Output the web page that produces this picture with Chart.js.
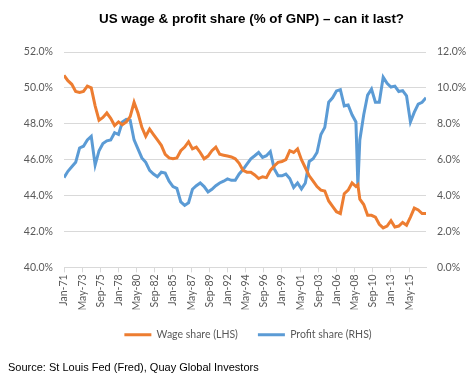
<!DOCTYPE html>
<html>
<head>
<meta charset="utf-8">
<script src="https://cdn.jsdelivr.net/npm/chart.js@4.4.1/dist/chart.umd.min.js"></script>
<style>
  html, body { margin: 0; padding: 0; background: #fff; }
  #wrap { position: relative; width: 475px; height: 383px; }
  #c { position: absolute; left: 0; top: 0; }
  #title { position: absolute; left: 0; width: 475px; top: 11px; text-align: center; padding-left: 28px; box-sizing: border-box;
           font: bold 13.4px "Liberation Sans", Arial, sans-serif; color: #000; }
  #source { position: absolute; left: 8px; top: 361px; font: 11px "Liberation Sans", Arial, sans-serif; color: #000; }
</style>
</head>
<body>
<div id="wrap">
  <canvas id="c" width="475" height="383"></canvas>
  <div id="title">US wage &amp; profit share (% of GNP) – can it last?</div>
  <div id="source">Source: St Louis Fed (Fred), Quay Global Investors</div>
</div>
<script>
// Observation dates (YYYY-MM)
const dates = [
 '1971-01','1971-07','1972-01','1972-07','1973-01','1973-07','1974-01','1974-07','1975-01','1975-07',
 '1976-01','1976-07','1977-01','1977-07','1978-01','1978-07','1979-01','1979-07','1980-01','1980-07',
 '1981-01','1981-07','1982-01','1982-07','1983-01','1983-07','1984-01','1984-07','1985-01','1985-07',
 '1986-01','1986-07','1987-01','1987-07','1988-01','1988-07','1989-01','1989-07','1990-01','1990-07',
 '1991-01','1991-07','1992-01','1992-07','1993-01','1993-07','1994-01','1994-07','1995-01','1995-07',
 '1996-01','1996-07','1997-01','1997-07','1998-01','1998-07','1999-01','1999-07','2000-01','2000-07',
 '2001-01','2001-07','2002-01','2002-07','2003-01','2003-07','2004-01','2004-07','2005-01','2005-07',
 '2006-01','2006-07','2007-01','2007-07','2008-01','2008-07','2008-10','2009-01','2009-07',
 '2010-01','2010-07','2011-01','2011-07','2012-01','2012-07','2013-01','2013-07','2014-01','2014-07',
 '2015-01','2015-07','2016-01','2016-07','2017-01','2017-07'
];
// Wage share, % of GNP (left axis)
const wageShare = [
 50.7,50.4,50.2,49.8,49.75,49.8,50.1,50.0,49.0,48.2,
 48.35,48.6,48.3,47.9,48.1,47.95,48.1,48.4,49.2,48.6,
 47.8,47.3,47.7,47.4,47.1,46.8,46.3,46.1,46.05,46.1,
 46.5,46.7,47.0,46.6,46.7,46.4,46.05,46.2,46.5,46.7,
 46.3,46.25,46.2,46.15,46.05,45.8,45.4,45.3,45.3,45.15,
 44.95,45.05,45.0,45.4,45.65,45.85,45.9,46.0,46.5,46.4,
 46.6,46.0,45.55,45.1,44.8,44.5,44.3,44.25,43.7,43.4,
 43.1,43.0,44.1,44.3,44.7,44.5,44.6,43.8,43.5,
 42.9,42.9,42.8,42.4,42.2,42.3,42.6,42.25,42.3,42.5,
 42.35,42.8,43.3,43.2,43.0,43.0
];
// Profit share, % of GNP (right axis)
const profitShare = [
 5.0,5.35,5.6,5.85,6.65,6.75,7.1,7.3,5.7,6.5,
 6.9,7.05,7.1,7.5,7.4,8.1,8.25,8.2,7.1,6.6,
 6.1,5.85,5.4,5.2,5.05,5.3,5.25,4.8,4.5,4.4,
 3.65,3.45,3.6,4.35,4.55,4.7,4.5,4.2,4.35,4.55,
 4.7,4.8,4.93,4.85,4.85,5.2,5.45,5.75,6.05,6.22,
 6.4,6.13,6.22,6.45,5.5,5.1,5.1,5.2,4.95,4.45,
 4.7,4.37,4.7,5.9,6.05,6.4,7.4,7.8,9.2,9.45,
 9.83,9.9,9.0,9.05,8.5,8.1,4.55,7.1,8.5,
 9.6,9.93,9.2,9.2,10.6,10.25,10.05,10.1,9.8,9.85,
 9.56,8.1,8.65,9.1,9.2,9.45
];
// X-axis tick labels (every 28 months from Jan-71)
const tickLabels = ['Jan-71','May-73','Sep-75','Jan-78','May-80','Sep-82','Jan-85','May-87','Sep-89','Jan-92',
                    'May-94','Sep-96','Jan-99','May-01','Sep-03','Jan-06','May-08','Sep-10','Jan-13','May-15'];
const tickStepMonths = 28;
const leftTicks = [40, 42, 44, 46, 48, 50, 52];
const rightTicks = [0, 2, 4, 6, 8, 10, 12];

const toMonth = s => { const [y, m] = s.split('-').map(Number); return (y - 1971) * 12 + (m - 1); };
const xs = dates.map(toMonth);
const lastMonth = xs[xs.length - 1];

const ORANGE = '#ED7D31', BLUE = '#5B9BD5', GRID = '#D9D9D9', TXT = '#595959';
const FONT = { family: 'Lato, "Open Sans", sans-serif', size: 10.5 };

new Chart(document.getElementById('c'), {
  type: 'line',
  data: {
    datasets: [
      { label: 'Wage share (LHS)', data: xs.map((x, i) => ({ x, y: wageShare[i] })), yAxisID: 'yL',
        borderColor: ORANGE, backgroundColor: ORANGE, borderWidth: 3, pointRadius: 0, tension: 0 },
      { label: 'Profit share (RHS)', data: xs.map((x, i) => ({ x, y: profitShare[i] })), yAxisID: 'yR',
        borderColor: BLUE, backgroundColor: BLUE, borderWidth: 3, pointRadius: 0, tension: 0 }
    ]
  },
  options: {
    responsive: false,
    animation: false,
    layout: { padding: { top: 52, left: 21, right: 0, bottom: 33 } },
    plugins: {
      tooltip: { enabled: false },
      title: { display: false },
      legend: {
        position: 'bottom',
        labels: {
          boxWidth: 27, boxHeight: 3, padding: 20, color: TXT, font: FONT,
          generateLabels: chart => Chart.defaults.plugins.legend.labels.generateLabels(chart)
            .map(l => Object.assign(l, { lineWidth: 0 }))
        }
      }
    },
    scales: {
      x: {
        type: 'linear', min: 0, max: lastMonth,
        afterBuildTicks: axis => { axis.ticks = tickLabels.map((_, i) => ({ value: i * tickStepMonths })); },
        afterFit: s => { s.height = s.height - 3; },
        ticks: { color: TXT, font: FONT, maxRotation: 90, minRotation: 90, padding: 2, autoSkip: false,
                 callback: v => tickLabels[Math.round(v / tickStepMonths)] },
        grid: { display: true, drawOnChartArea: false, drawTicks: true, tickLength: 5, color: GRID },
        border: { display: true, color: GRID, width: 1 }
      },
      yL: {
        position: 'left', min: 40, max: 52,
        afterBuildTicks: axis => { axis.ticks = leftTicks.map(v => ({ value: v })); },
        afterFit: s => { s.width = 43; },
        ticks: { color: TXT, font: FONT, padding: 11, callback: v => v.toFixed(1) + '%' },
        grid: { color: GRID, drawTicks: false },
        border: { display: false }
      },
      yR: {
        position: 'right', min: 0, max: 12,
        afterBuildTicks: axis => { axis.ticks = rightTicks.map(v => ({ value: v })); },
        afterFit: s => { s.width = 49; },
        ticks: { color: TXT, font: FONT, padding: 11, callback: v => v.toFixed(1) + '%' },
        grid: { drawOnChartArea: false, drawTicks: false },
        border: { display: false }
      }
    }
  }
});
</script>
</body>
</html>
